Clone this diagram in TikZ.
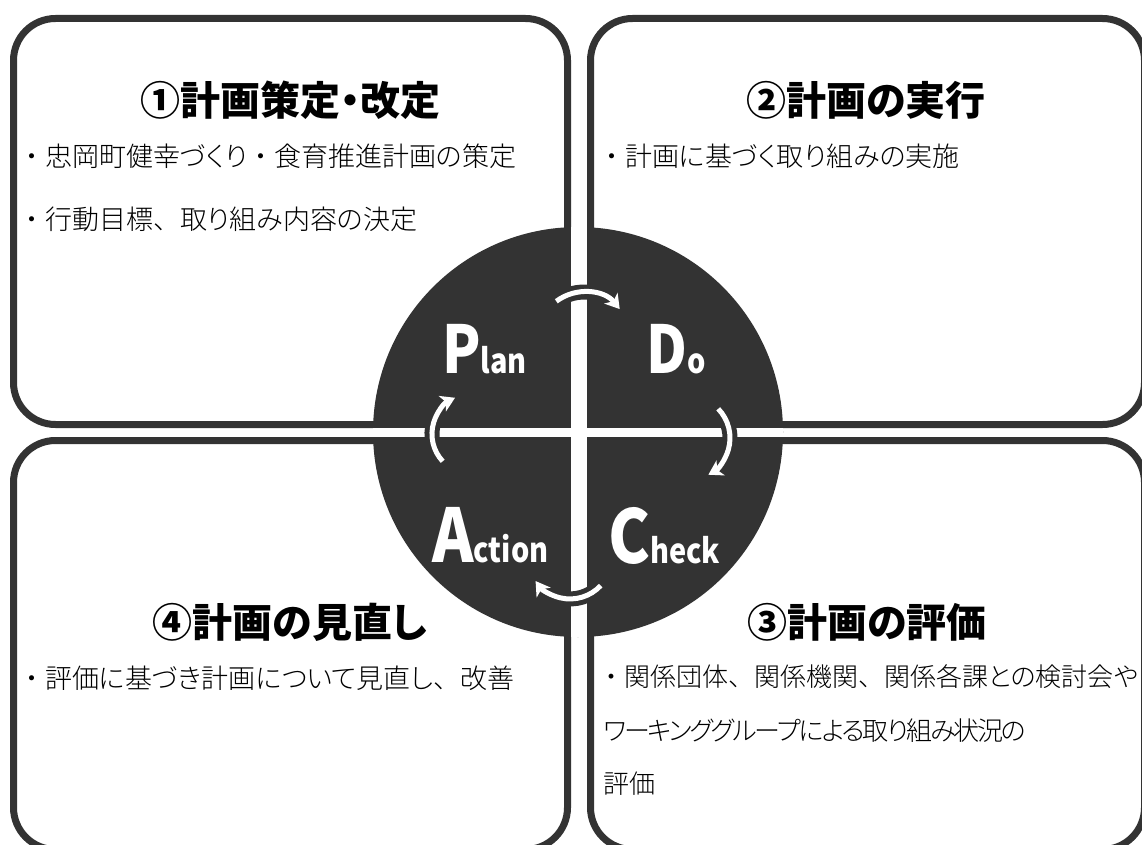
\documentclass[tikz,border=0pt]{standalone}
\usepackage{fontspec}
\usepackage{graphicx}
\usetikzlibrary{arrows.meta}
\newfontfamily\jpbody{Noto Sans CJK JP Light}[RawFeature=+palt]
\newfontfamily\jptight{Noto Sans CJK JP Light}[RawFeature=+palt, LetterSpace=-8]
\newfontfamily\jpfull{Noto Sans CJK JP Light}
\newfontfamily\jptitle{Noto Sans CJK JP Black}[RawFeature=+palt]
\newcommand{\fw}[1]{{\jpfull #1}}
\definecolor{dk}{HTML}{333333}
\tikzset{
  box/.style={draw=dk, line width=7pt, rounded corners=42pt, rectangle, inner sep=0pt},
  ttl/.style={font=\jptitle\fontsize{40}{44}\selectfont, text=black, inner sep=0pt},
  body/.style={font=\jpbody\fontsize{27}{32}\selectfont, text=black, anchor=west, inner sep=0pt},
  bodyb/.style={body, font=\jpbody\fontsize{26}{32}\selectfont},
  bodyt/.style={body, font=\jptight\fontsize{26}{32}\selectfont},
  pdca/.style={text=white, anchor=base west, inner sep=0pt},
  halo/.style={draw=dk, line width=15pt},
  cyc/.style={draw=white, line width=5pt, -{Stealth[length=14pt, width=17pt, inset=4pt]}},
}
\newcommand{\pdcaf}[2]{\scalebox{0.85}[1]{\jptitle\fontsize{#1}{#1}\selectfont #2}}
\begin{document}
\begin{tikzpicture}[x=1pt, y=-1pt]
\useasboundingbox (0,0) rectangle (1142,845);
% boxes
\node[box, minimum width=554pt, minimum height=406pt] (tl) at (290.5,221.5) {};
\node[box, minimum width=554pt, minimum height=406pt] (tr) at (867.5,221.5) {};
\node[box, minimum width=554pt, minimum height=409pt] (bl) at (290.5,645) {};
\node[box, minimum width=554pt, minimum height=409pt] (br) at (867.5,645) {};
% central disc
\node[circle, fill=dk, minimum size=410pt, inner sep=0pt] (c) at (578,432) {};
\begin{scope}
  \clip (578,432) circle[radius=205];
  \fill[white] (571,220) rectangle (587,645);
  \fill[white] (365,428) rectangle (790,437);
\end{scope}
% cycle arrows
\coordinate (a1) at (556.3,301.3);
\coordinate (a2) at (718.2,408.8);
\coordinate (a3) at (600.7,585.6);
\coordinate (a4) at (442.7,461.3);
\draw[halo] (a1) arc[start angle=233, end angle=321, radius=46];
\draw[halo] (a2) arc[start angle=-44, end angle=61, radius=42];
\draw[halo] (a3) arc[start angle=43, end angle=145, radius=42];
\draw[halo] (a4) arc[start angle=137, end angle=245, radius=40];
\draw[cyc] (a1) arc[start angle=233, end angle=321, radius=46];
\draw[cyc] (a2) arc[start angle=-44, end angle=61, radius=42];
\draw[cyc] (a3) arc[start angle=43, end angle=145, radius=42];
\draw[cyc] (a4) arc[start angle=137, end angle=245, radius=40];
% PDCA words
\node[pdca] (plan) at (442,373) {\pdcaf{66}{P}\pdcaf{34}{lan}};
\node[pdca] (do) at (646,373) {\pdcaf{66}{D}\pdcaf{34}{o}};
\node[pdca] (act) at (432,562) {\pdcaf{74}{A}\pdcaf{34}{ction}};
\node[pdca] (chk) at (608,563) {\pdcaf{74}{C}\pdcaf{34}{heck}};
% titles
\node[ttl] (t1) at (290,100) {①計画策定・改定};
\node[ttl] (t2) at (866,100) {②計画の実行};
\node[ttl] (t4) at (290,622) {④計画の見直し};
\node[ttl] (t3) at (867,622) {③計画の評価};
% body texts
\node[body] (l1) at (18,156) {\fw{・}忠岡町健幸づくり\fw{・}食育推進計画の策定};
\node[body] (l2) at (18,219) {\fw{・}行動目標\fw{、}取り組み内容の決定};
\node[body] (r1) at (598,156) {\fw{・}計画に基づく取り組みの実施};
\node[body] (l4) at (18,678) {\fw{・}評価に基づき計画について見直し\fw{、}改善};
\node[bodyb] (r3a) at (598,677) {\fw{・}関係団体\fw{、}関係機関\fw{、}関係各課との検討会や};
\node[bodyt] (r3b) at (603,731) {ワーキンググループによる取り組み状況の};
\node[bodyb] (r3c) at (603,784) {評価};
\end{tikzpicture}
\end{document}
